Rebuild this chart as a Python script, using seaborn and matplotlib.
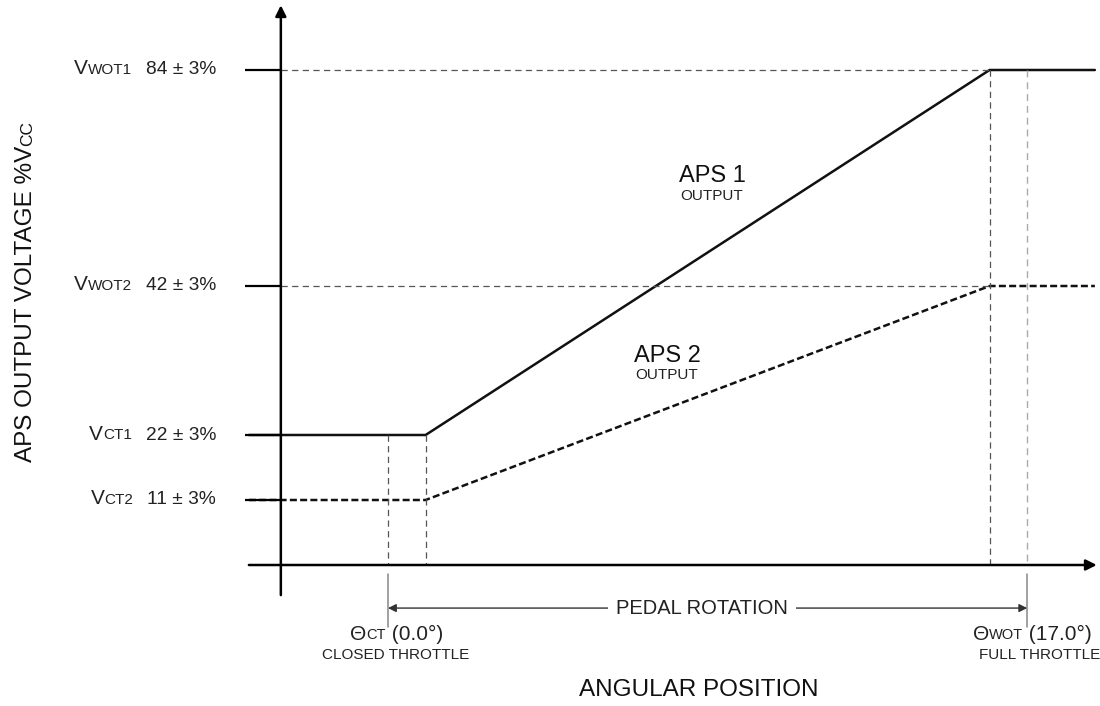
import numpy as np
import pandas as pd
import seaborn as sns
import matplotlib.pyplot as plt

# Pedal angle (deg) and sensor outputs (% Vcc)
angle = [-3.7, 1.0, 16.0, 18.8]
aps1 = [22, 22, 84, 84]
aps2 = [11, 11, 42, 42]

theta_ct = 0.0
theta_wot = 17.0
break_lo, break_hi = 1.0, 16.0

level_values = [84, 42, 22, 11]
level_names = ["WOT1", "WOT2", "CT1", "CT2"]
level_text = ["84 ± 3%", "42 ± 3%", "22 ± 3%", "11 ± 3%"]

# Schematic (non-linear) vertical scale, as in the drawing
knots_v = [-40, 0, 11, 22, 42, 84, 120]
knots_u = [-236, 0, 65, 130, 279, 495, 680]


def forward(v):
    return np.interp(v, knots_v, knots_u)


def inverse(u):
    return np.interp(u, knots_u, knots_v)


sns.set_theme(style="white")
plt.rcParams['font.family'] = ['Liberation Sans', 'DejaVu Sans']

fig = plt.figure(figsize=(11, 7.06), dpi=100)
ax = fig.add_axes([0, 0, 1, 1])
px_deg, x0_px = 37.6, 388
ax.set_xlim((0 - x0_px) / px_deg, (1100 - x0_px) / px_deg)
ax.set_yscale('function', functions=(forward, inverse))
ax.set_ylim(inverse(-141), inverse(565))
ax.axis('off')

df = pd.DataFrame({
    "angle": angle * 2,
    "output": aps1 + aps2,
    "sensor": ["APS 1"] * len(angle) + ["APS 2"] * len(angle),
})
sns.lineplot(data=df, x="angle", y="output", style="sensor",
             dashes={"APS 1": "", "APS 2": (2.8, 1.3)},
             color="#111111", lw=1.8, legend=False, ax=ax,
             estimator=None, sort=False)

y_axis_x = -2.85
stub_x = -3.8

# guide lines
for v in level_values[:2]:
    ax.plot([y_axis_x, break_hi], [v, v], color="#555555", lw=0.9,
            dashes=(5, 3.5))
ax.plot([theta_ct, theta_ct], [aps1[0], 0], color="#555555", lw=0.9, dashes=(5, 3.5))
ax.plot([break_lo, break_lo], [aps1[0], 0], color="#555555", lw=0.9, dashes=(5, 3.5))
ax.plot([break_hi, break_hi], [aps1[-1], 0], color="#555555", lw=0.9, dashes=(5, 3.5))
ax.plot([theta_wot, theta_wot], [aps1[-1], 0], color="#aaaaaa", lw=1.0, dashes=(5, 3.5))

# tick stubs
for v in level_values:
    ax.plot([stub_x, y_axis_x], [v, v], color="black", lw=1.6, solid_capstyle="butt")

# axes with arrows
arrow = dict(arrowstyle='-|>', lw=1.8, color='black', mutation_scale=16,
             shrinkA=0, shrinkB=0)
ax.annotate("", xy=(y_axis_x, 96.6), xytext=(y_axis_x, -5.1), arrowprops=arrow)
ax.annotate("", xy=(18.85, 0), xytext=(-3.7, 0), arrowprops=arrow)

# pedal rotation dimension
for t in [theta_ct, theta_wot]:
    ax.plot([t, t], [-1.6, -10.5], color="#888888", lw=1.1)
ax.annotate("", xy=(theta_wot, -7.3), xytext=(theta_ct, -7.3),
            arrowprops=dict(arrowstyle='<|-|>', lw=1.0, color='#333333',
                            mutation_scale=12, shrinkA=0, shrinkB=0))
ax.text(8.35, -7.3, "PEDAL ROTATION", ha="center", va="center", fontsize=14.5,
        color="#222222", bbox=dict(fc="white", ec="none", pad=6))


def fx(px):
    return px / 1100


def fy(py):
    return 1 - py / 706


T = ax.transAxes

# level labels: V + small-caps subscript + value
for v, name, txt in zip(level_values, level_names, level_text):
    t1 = ax.text(fx(216), v, txt, transform=ax.get_yaxis_transform(),
                 ha="right", va="center", fontsize=13.8, color="#222222")
    t2 = ax.annotate(name, xy=(0, 0), xycoords=t1, xytext=(-10, 1),
                     textcoords="offset points", ha="right", va="bottom",
                     fontsize=11, color="#222222")
    ax.annotate("V", xy=(0, 0), xycoords=t2, xytext=(0, -1),
                textcoords="offset points", ha="right", va="bottom",
                fontsize=15, color="#222222")

# series labels
ax.text(fx(712), fy(176), "APS 1", transform=T, ha="center", va="center", fontsize=17, color="#111111")
ax.text(fx(712), fy(196), "OUTPUT", transform=T, ha="center", va="center", fontsize=11, color="#222222")
ax.text(fx(667), fy(356), "APS 2", transform=T, ha="center", va="center", fontsize=17, color="#111111")
ax.text(fx(667), fy(375), "OUTPUT", transform=T, ha="center", va="center", fontsize=11, color="#222222")

# angle labels
for left_px, sub, val, note, note_px in [(350, "CT", " (0.0°)", "CLOSED THROTTLE", 396),
                                         (973, "WOT", " (17.0°)", "FULL THROTTLE", 1040)]:
    a = ax.text(fx(left_px), fy(634), "Θ", transform=T, ha="left", va="center",
                fontsize=15, color="#222222")
    b = ax.annotate(sub, xy=(1, 0), xycoords=a, xytext=(0, 1),
                    textcoords="offset points", ha="left", va="bottom",
                    fontsize=10.5, color="#222222")
    ax.annotate(val, xy=(1, 0), xycoords=b, xytext=(0, -1),
                textcoords="offset points", ha="left", va="bottom",
                fontsize=15, color="#222222")
    ax.text(fx(note_px), fy(655), note, transform=T, ha="center", va="center",
            fontsize=11, color="#222222")

ax.text(fx(699), fy(690), "ANGULAR POSITION", transform=T, ha="center", va="center",
        fontsize=17.5, color="#111111")

# y label
yl = ax.text(fx(26), fy(304), "APS OUTPUT VOLTAGE %V", transform=T, rotation=90,
             ha="center", va="center", fontsize=17.5, color="#111111")
ax.annotate("CC", xy=(1, 1), xycoords=yl, xytext=(-1, 0),
            textcoords="offset points", rotation=90, ha="right", va="bottom",
            fontsize=12.5, color="#111111")

fig.savefig("out.png", dpi=100, facecolor="white")
